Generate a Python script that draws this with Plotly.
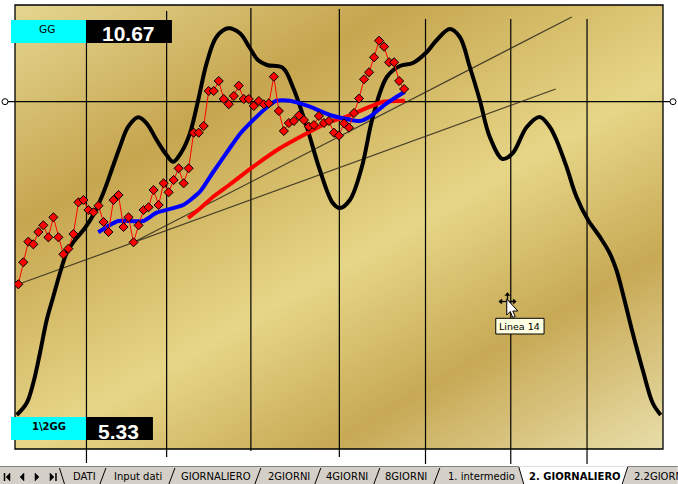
import zlib, struct, base64
import plotly.graph_objects as go

# ---------------- data (day index, price) ----------------
price_days = list(range(78))
price_vals = [16.47, 18.67, 20.73, 20.47, 21.70, 22.37, 21.17, 23.17, 21.17, 19.47,
              20.03, 21.50, 24.67, 24.90, 23.90, 23.67, 24.33, 22.70, 21.70, 24.90,
              25.40, 22.20, 23.17, 20.67, 22.37, 23.90, 24.17, 25.90, 24.40, 26.57,
              25.67, 26.90, 28.07, 26.57, 28.07, 31.63, 31.63, 32.30, 35.80, 35.80,
              36.80, 35.00, 34.47, 35.30, 36.33, 35.00, 35.00, 34.30, 34.80, 34.47,
              34.57, 37.23, 33.80, 31.80, 32.60, 32.80, 33.35, 32.90, 32.23, 32.40,
              33.30, 32.60, 32.80, 31.63, 31.33, 32.57, 32.13, 33.60, 35.05, 36.97,
              37.67, 39.17, 40.83, 40.23, 38.67, 38.67, 36.80, 36.00]

cycle_days = [-0.32, 1.68, 2.99, 4.33, 5.67, 6.98, 8.32, 9.65, 11.31, 13.31, 15.30, 16.96,
              18.63, 20.29, 21.94, 23.94, 25.61, 27.61, 29.60, 30.92, 32.60, 34.25, 35.91,
              37.58, 39.58, 41.89, 44.22, 46.21, 47.82, 49.61, 52.80, 54.79, 57.58, 60.18,
              62.77, 64.17, 66.17, 68.56, 70.75, 73.55, 76.14, 78.74, 81.53, 83.52, 86.12,
              88.11, 90.11, 92.10, 94.10, 96.69, 98.69, 101.48, 104.07, 106.07, 107.40,
              109.40, 111.39, 113.71, 116.04, 118.04, 119.37, 120.37, 122.62, 124.62,
              126.61, 128.21]
cycle_vals = [3.40, 4.60, 6.60, 9.60, 12.90, 15.23, 17.60, 19.60, 20.90, 22.10, 23.73, 25.60,
              27.90, 30.23, 32.23, 33.17, 32.57, 30.90, 29.40, 28.73, 29.73, 31.57, 34.90,
              38.57, 41.23, 42.07, 41.57, 40.10, 38.90, 38.40, 38.10, 36.20, 32.20, 27.90,
              24.60, 24.10, 24.90, 28.20, 33.20, 37.20, 38.30, 38.60, 39.70, 40.90, 42.00,
              41.20, 38.20, 34.90, 31.20, 29.00, 29.60, 32.20, 33.20, 32.20, 30.90,
              28.23, 25.23, 22.90, 21.23, 19.57, 17.90, 16.10, 11.60, 7.90,
              4.60, 3.40]

ma_fast_days = [15.96, 18.29, 19.95, 24.94, 27.61, 32.91, 36.25, 38.90, 42.22, 44.22, 46.21,
                50.20, 51.55, 54.20, 58.19, 62.18, 64.83, 68.16, 70.16, 73.49, 77.14]
ma_fast_vals = [21.67, 22.40, 22.80, 22.80, 23.63, 24.40, 25.73, 27.70, 30.10, 31.50, 32.57,
                34.40, 34.83, 34.83, 34.23, 33.40, 33.07, 32.80, 33.23, 34.57, 35.73]

ma_slow_days = [33.91, 36.25, 38.90, 42.22, 46.88, 52.20, 58.19, 62.18, 65.51, 70.16, 72.81, 77.14]
ma_slow_vals = [23.10, 24.05, 25.23, 26.45, 28.23, 30.07, 31.73, 32.73, 33.23, 34.23, 34.73, 34.83]

trend_a_days = [0, 107.26]
trend_a_vals = [16.47, 36.00]
trend_b_days = [23, 110.46]
trend_b_vals = [20.67, 43.20]

gg_label, gg_value = "GG", "10.67"
half_label, half_value = "1\\2GG", "5.33"
sheet_tabs = ["DATI", "Input dati", "GIORNALIERO", "2GIORNI", "4GIORNI", "8GIORNI",
              "1. intermedio", "2. GIORNALIERO", "2.2GIORNI"]
tab_text_x = [70.7, 112, 179, 265.7, 324, 383, 446, 527, 632]
active_tab = "2. GIORNALIERO"
tooltip_text = "Linea 14"

# ---------------- geometry helpers ----------------
W, H = 678, 484
L, R, T, B = 15, 663.3, 5, 449
PW, PH = R - L, B - T

def px(x):
    return (x - L) / PW

def py(y):
    return (B - y) / PH

# ---------------- gold gradient background ----------------
def gold_png(w=324, h=222):
    stops = [(0.0, (229, 215, 145)), (0.27, (199, 166, 80)), (0.55, (231, 215, 136)),
             (0.76, (200, 170, 86)), (1.0, (233, 223, 170))]
    raw = bytearray()
    for j in range(h):
        raw.append(0)
        for i in range(w):
            xp = (i + 0.5) / w * PW
            yp = (j + 0.5) / h * PH
            t = (0.5 * xp + 0.866 * yp) / (0.5 * PW + 0.866 * PH)
            for k in range(len(stops) - 1):
                if stops[k][0] <= t <= stops[k + 1][0]:
                    a, ca = stops[k]
                    b, cb = stops[k + 1]
                    f = (t - a) / (b - a)
                    raw.extend(int(ca[c] + (cb[c] - ca[c]) * f) for c in range(3))
                    break
            else:
                raw.extend(stops[-1][1])

    def chunk(tag, data):
        return struct.pack('>I', len(data)) + tag + data + struct.pack('>I', zlib.crc32(tag + data) & 0xffffffff)
    png = b'\x89PNG\r\n\x1a\n' + chunk(b'IHDR', struct.pack('>IIBBBBB', w, h, 8, 2, 0, 0, 0)) \
        + chunk(b'IDAT', zlib.compress(bytes(raw), 9)) + chunk(b'IEND', b'')
    return 'data:image/png;base64,' + base64.b64encode(png).decode()

fig = go.Figure()

# trend lines
for xs, ys in [(trend_a_days, trend_a_vals), (trend_b_days, trend_b_vals)]:
    fig.add_trace(go.Scatter(x=xs, y=ys, mode='lines',
                             line=dict(color='rgba(45,40,30,0.85)', width=1.2)))

# cycle curve
fig.add_trace(go.Scatter(x=cycle_days, y=cycle_vals, mode='lines',
                         line=dict(color='black', width=4, shape='spline', smoothing=1.0)))
# averages
fig.add_trace(go.Scatter(x=ma_slow_days, y=ma_slow_vals, mode='lines',
                         line=dict(color='#FF0000', width=4, shape='spline', smoothing=0.5)))
fig.add_trace(go.Scatter(x=ma_fast_days, y=ma_fast_vals, mode='lines',
                         line=dict(color='#0000FF', width=4, shape='spline', smoothing=0.5)))
# price
fig.add_trace(go.Scatter(x=price_days, y=price_vals, mode='lines+markers',
                         line=dict(color='#FF0000', width=1),
                         marker=dict(symbol='diamond', size=7, color='#FF0000',
                                     line=dict(color='black', width=1))))

shapes = []
# vertical divider lines
for xv, top, bot in [(86.5, 20, 463), (166.7, 11, 457), (251, 8, 451), (339.5, 9, 457),
                     (425.7, 19, 464), (511, 19, 464), (587.3, 19, 464)]:
    shapes.append(dict(type='line', xref='paper', yref='paper', x0=px(xv), x1=px(xv),
                       y0=py(top), y1=py(bot), line=dict(color='black', width=1.2), layer='below'))
# horizontal reference line with end circles
shapes.append(dict(type='line', xref='paper', yref='paper', x0=px(5), x1=px(673),
                   y0=py(101.7), y1=py(101.7), line=dict(color='black', width=1.2), layer='below'))
# plot border
shapes.append(dict(type='rect', xref='paper', yref='paper', x0=0, x1=1, y0=0, y1=1,
                   line=dict(color='black', width=1.3), layer='below'))
for cx in (5, 673.3):
    shapes.append(dict(type='circle', xref='paper', yref='paper', x0=px(cx - 3), x1=px(cx + 3),
                       y0=py(101.7 + 3), y1=py(101.7 - 3), fillcolor='white',
                       line=dict(color='black', width=1)))

def rect(x0, y0, x1, y1, fill, line=None):
    shapes.append(dict(type='rect', xref='paper', yref='paper', x0=px(x0), x1=px(x1),
                       y0=py(y1), y1=py(y0), fillcolor=fill,
                       line=dict(width=0) if line is None else line))

def path(pts, fill=None, color='black', width=1, close=True):
    d = 'M ' + ' L '.join(f'{px(a):.5f},{py(b):.5f}' for a, b in pts) + (' Z' if close else '')
    s = dict(type='path', xref='paper', yref='paper', path=d,
             line=dict(color=color, width=width))
    if fill:
        s['fillcolor'] = fill
    shapes.append(s)

# info boxes
rect(11, 20, 86, 43, '#00FFFF')
rect(86, 20, 172, 43, 'black')
rect(11, 417, 86, 440, '#00FFFF')
rect(86, 417, 153, 440, 'black')

# sheet-tab bar
rect(0, 466, 678, 484, '#D4D0C8')
path([(0, 466.5), (678, 466.5)], color='#808080', width=1, close=False)
# nav buttons
path([(4.5, 473), (4.5, 481)], color='black', width=1.5, close=False)
path([(10, 473), (10, 481), (6, 477)], fill='black', width=0.5)
path([(24, 473), (24, 481), (20, 477)], fill='black', width=0.5)
path([(35, 473), (35, 481), (39, 477)], fill='black', width=0.5)
path([(50, 473), (50, 481), (54, 477)], fill='black', width=0.5)
path([(56, 473), (56, 481)], color='black', width=1.5, close=False)
# tab separators
path([(59.5, 468), (64.5, 484)], width=1, close=False)
for sx in (103, 172, 258, 318, 377, 437):
    path([(sx - 3, 484), (sx + 3, 468)], width=1, close=False)
# active tab
path([(519, 466.5), (628, 466.5), (623, 484), (524, 484)], fill='white', color='white', width=0.5)
path([(519, 467), (524, 484)], width=1, close=False)
path([(622.5, 484), (628, 467)], width=1, close=False)

# tooltip + cursor
rect(496, 318.3, 544.3, 334, '#FFFFE1', line=dict(color='black', width=1))
path([(500, 301.5), (515.5, 301.5)], width=1.3, close=False)
path([(507.7, 293.5), (507.7, 309.5)], width=1.3, close=False)
path([(499, 301.5), (502, 299), (502, 304)], fill='black', width=0.5)
path([(516.5, 301.5), (513.5, 299), (513.5, 304)], fill='black', width=0.5)
path([(507.7, 292.5), (505.2, 295.5), (510.2, 295.5)], fill='black', width=0.5)
path([(507, 299), (507, 315), (510.5, 311.5), (513, 317.5), (515.5, 316.5), (513, 311), (518, 311)],
     fill='white', color='black', width=1)

annotations = []

def text(x, y, s, size, color='black', family='DejaVu Sans', bold=False, xanchor='center'):
    annotations.append(dict(xref='paper', yref='paper', x=px(x), y=py(y), text=f'<b>{s}</b>' if bold else s,
                            showarrow=False, xanchor=xanchor, yanchor='middle',
                            font=dict(size=size, color=color, family=family)))

text(47.5, 29.3, gg_label, 10.5)
text(129, 33.5, gg_value, 21, color='white', family='Liberation Sans', bold=True)
text(48.7, 426, half_label, 10, bold=True)
text(118.3, 431, half_value, 21, color='white', family='Liberation Sans', bold=True)
text(520, 326.3, tooltip_text, 9.5, xanchor='center')
for name, tx in zip(sheet_tabs, tab_text_x):
    text(tx, 476.5, name, 10, bold=(name == active_tab), xanchor='left')

fig.update_layout(
    width=W, height=H, margin=dict(l=L, r=W - R, t=T, b=H - B),
    paper_bgcolor='white', plot_bgcolor='rgba(0,0,0,0)',
    showlegend=False, hovermode=False,
    xaxis=dict(range=[(L - 18.3) / 5.013, (R - 18.3) / 5.013], visible=False, fixedrange=True),
    yaxis=dict(range=[0, 44.4], visible=False, fixedrange=True),
    shapes=shapes, annotations=annotations,
    images=[dict(source=gold_png(), xref='paper', yref='paper', x=0, y=1, sizex=1, sizey=1,
                 sizing='stretch', layer='below', xanchor='left', yanchor='top')],
)

fig.write_html("out.html", config={'displayModeBar': False},
               post_script="document.body.style.margin='0';document.body.style.overflow='hidden';")
